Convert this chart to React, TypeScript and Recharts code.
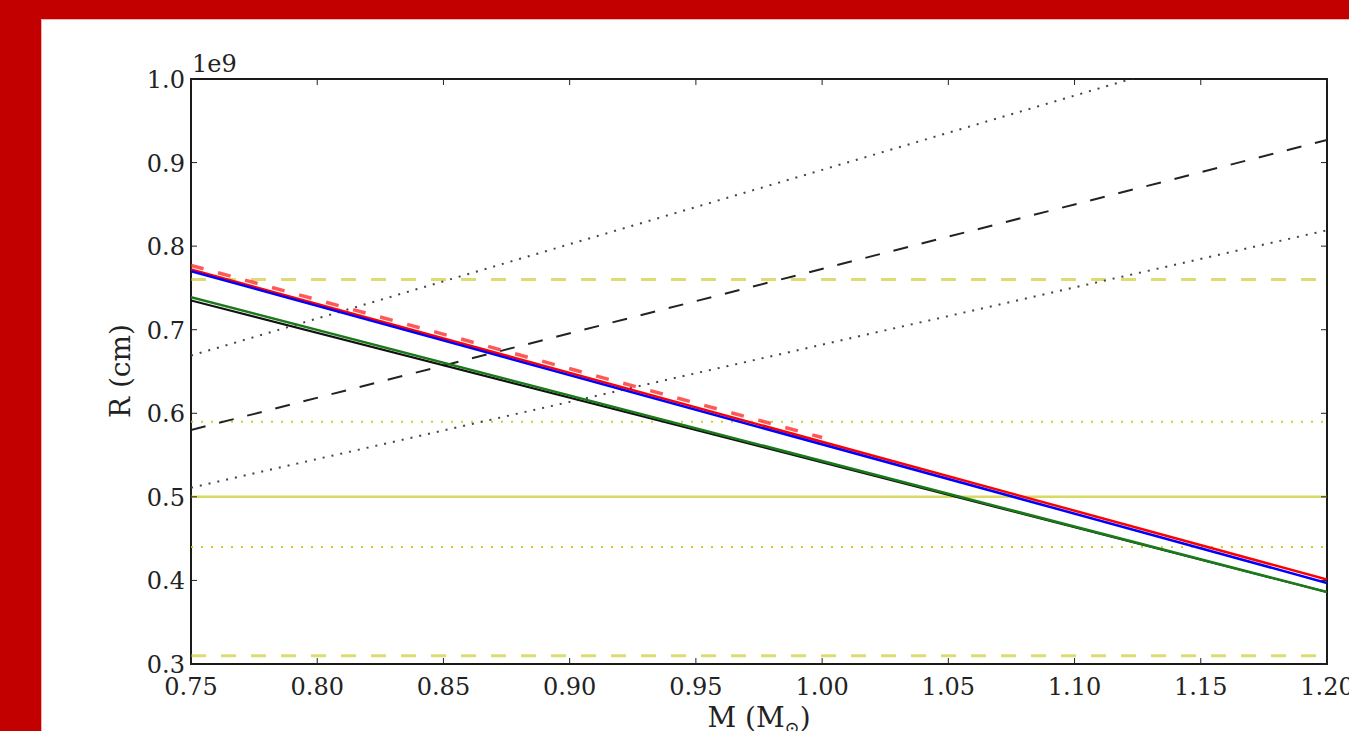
import { LineChart, Line, XAxis, YAxis, ReferenceLine, ReferenceArea } from 'recharts';

// chart values (radius in units of 1e9 cm)
const massTicks = [0.75, 0.8, 0.85, 0.9, 0.95, 1.0, 1.05, 1.1, 1.15, 1.2];
const radiusTicks = [0.3, 0.4, 0.5, 0.6, 0.7, 0.8, 0.9, 1.0];

const redDashed = [{ m: 0.75, r: 0.777 }, { m: 1.0, r: 0.571 }];
const redSolid = [{ m: 0.75, r: 0.772 }, { m: 1.2, r: 0.401 }];
const blueSolid = [{ m: 0.75, r: 0.770 }, { m: 1.2, r: 0.397 }];
const blackSolid = [{ m: 0.75, r: 0.735 }, { m: 1.2, r: 0.386 }];
const greenSolid = [{ m: 0.75, r: 0.739 }, { m: 1.2, r: 0.386 }];
const blackDashed = [{ m: 0.75, r: 0.580 }, { m: 1.2, r: 0.927 }];
const blackDottedUpper = [{ m: 0.75, r: 0.669 }, { m: 1.2, r: 1.069 }];
const blackDottedLower = [{ m: 0.75, r: 0.511 }, { m: 1.2, r: 0.819 }];

const yellowMean = 0.5;
const yellowInner = [0.59, 0.44];
const yellowOuter = [0.76, 0.31];

const W = 1349;
const H = 731;
const PLOT_LEFT = 191;
const PLOT_RIGHT = 1327;
const PLOT_TOP = 79;
const PLOT_BOTTOM = 664;
const FONT = '"DejaVu Serif", serif';
const TXT = '#222';

const XTick = (props: any) => {
  const { x, payload } = props;
  return (
    <g>
      <line x1={x} x2={x} y1={PLOT_BOTTOM} y2={PLOT_BOTTOM - 6} stroke="#222" strokeWidth={1} />
      <line x1={x} x2={x} y1={PLOT_TOP} y2={PLOT_TOP + 6} stroke="#222" strokeWidth={1} />
      <text x={x} y={PLOT_BOTTOM + 31} textAnchor="middle" fontFamily={FONT} fontSize={24} fill={TXT}>
        {payload.value.toFixed(2)}
      </text>
    </g>
  );
};

const YTick = (props: any) => {
  const { y, payload } = props;
  return (
    <g>
      <line x1={PLOT_LEFT} x2={PLOT_LEFT + 6} y1={y} y2={y} stroke="#222" strokeWidth={1} />
      <line x1={PLOT_RIGHT} x2={PLOT_RIGHT - 6} y1={y} y2={y} stroke="#222" strokeWidth={1} />
      <text x={PLOT_LEFT - 6} y={y + 9} textAnchor="end" fontFamily={FONT} fontSize={24} fill={TXT}>
        {payload.value.toFixed(1)}
      </text>
    </g>
  );
};

export default function App() {
  return (
    <div style={{ position: 'fixed', left: 0, top: 0, width: W, height: H, background: '#c30000', overflow: 'hidden' }}>
      <div
        style={{
          position: 'absolute', left: 41, top: 19, right: 0, bottom: 0, background: '#fff',
          borderLeft: '1px solid #f2b0b0', borderTop: '1px solid #f2b0b0',
        }}
      />
      <div style={{ position: 'absolute', left: 0, top: 0 }}>
        <LineChart width={W} height={H} margin={{ top: PLOT_TOP, right: W - PLOT_RIGHT, bottom: H - PLOT_BOTTOM - 30, left: PLOT_LEFT - 60 }}>
          <XAxis
            type="number"
            dataKey="m"
            domain={[0.75, 1.2]}
            ticks={massTicks}
            interval={0}
            allowDataOverflow
            height={30}
            axisLine={false}
            tickLine={false}
            tickSize={0}
            tick={<XTick />}
          />
          <YAxis
            type="number"
            dataKey="r"
            domain={[0.3, 1.0]}
            ticks={radiusTicks}
            interval={0}
            allowDataOverflow
            width={60}
            axisLine={false}
            tickLine={false}
            tickSize={0}
            tick={<YTick />}
          />
          {yellowOuter.map((v) => (
            <ReferenceLine key={'o' + v} y={v} stroke="#bfbf00" strokeOpacity={0.55} strokeWidth={3} strokeDasharray="15 15" />
          ))}
          {yellowInner.map((v) => (
            <ReferenceLine key={'i' + v} y={v} stroke="#c8c800" strokeOpacity={0.85} strokeWidth={2} strokeDasharray="2 8" />
          ))}
          <ReferenceLine y={yellowMean} stroke="#bfbf00" strokeOpacity={0.6} strokeWidth={2.5} />
          <Line data={blackDottedUpper} dataKey="r" type="linear" dot={false} isAnimationActive={false} stroke="#444" strokeWidth={2} strokeDasharray="2 7" />
          <Line data={blackDottedLower} dataKey="r" type="linear" dot={false} isAnimationActive={false} stroke="#444" strokeWidth={2} strokeDasharray="2 7" />
          <Line data={blackDashed} dataKey="r" type="linear" dot={false} isAnimationActive={false} stroke="#222" strokeWidth={2} strokeDasharray="15 14" />
          <Line data={blackSolid} dataKey="r" type="linear" dot={false} isAnimationActive={false} stroke="#111" strokeWidth={2} />
          <Line data={greenSolid} dataKey="r" type="linear" dot={false} isAnimationActive={false} stroke="#1a7a1a" strokeWidth={2.5} />
          <Line data={redSolid} dataKey="r" type="linear" dot={false} isAnimationActive={false} stroke="#ff0000" strokeWidth={2.5} />
          <Line data={blueSolid} dataKey="r" type="linear" dot={false} isAnimationActive={false} stroke="#0000ff" strokeWidth={2.5} />
          <Line data={redDashed} dataKey="r" type="linear" dot={false} isAnimationActive={false} stroke="#ff2020" strokeOpacity={0.75} strokeWidth={3.5} strokeDasharray="13 15" />
          <ReferenceArea x1={0.75} x2={1.2} y1={0.3} y2={1.0} fill="none" fillOpacity={0} stroke="#1a1a1a" strokeWidth={2} ifOverflow="visible" />
        </LineChart>
      </div>
      <svg width={W} height={H} style={{ position: 'absolute', left: 0, top: 0, pointerEvents: 'none' }}>
        <text x={192} y={72} fontFamily={FONT} fontSize={24} fill={TXT}>1e9</text>
        <text x={(PLOT_LEFT + PLOT_RIGHT) / 2} y={727} textAnchor="middle" fontFamily={FONT} fontSize={28} fill={TXT}>
          M (M<tspan fontSize={18} dy={7}>⊙</tspan><tspan dy={-7}>)</tspan>
        </text>
        <text
          x={130}
          y={371}
          transform="rotate(-90 130 371)"
          textAnchor="middle"
          fontFamily={FONT}
          fontSize={28}
          fill={TXT}
        >
          R (cm)
        </text>
      </svg>
    </div>
  );
}
